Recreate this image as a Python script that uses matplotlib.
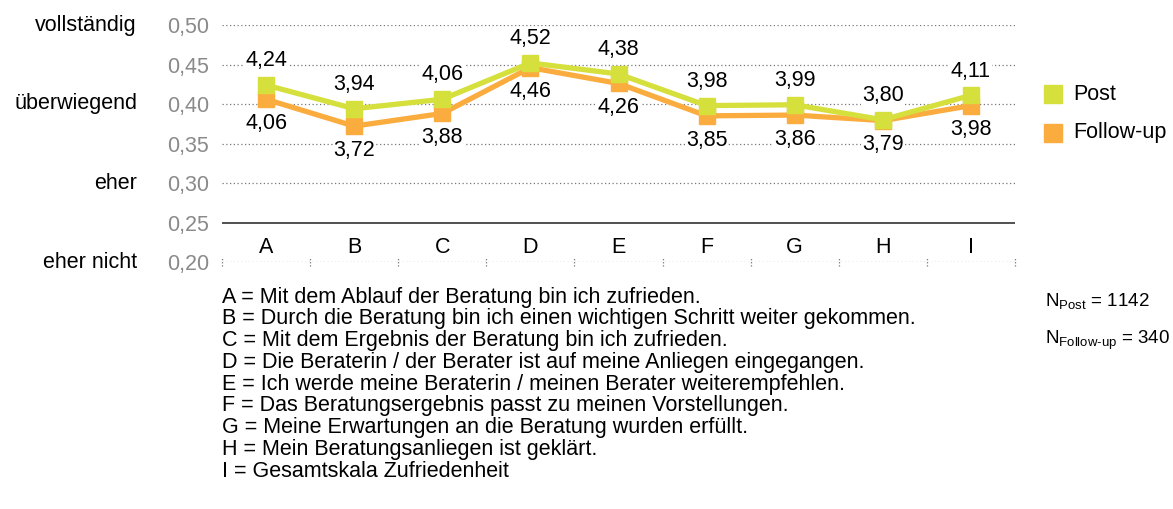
# Zufriedenheit mit der Beratung: Post vs. Follow-up
import matplotlib
matplotlib.use("Agg")
import matplotlib.pyplot as plt
from matplotlib.lines import Line2D
from matplotlib.transforms import blended_transform_factory

# %% Data
categories = ["A", "B", "C", "D", "E", "F", "G", "H", "I"]
post = [4.24, 3.94, 4.06, 4.52, 4.38, 3.98, 3.99, 3.80, 4.11]
follow_up = [4.06, 3.72, 3.88, 4.46, 4.26, 3.85, 3.86, 3.79, 3.98]
yticks = [0.20, 0.25, 0.30, 0.35, 0.40, 0.45, 0.50]
scale_labels = {0.50: "vollständig", 0.40: "überwiegend", 0.30: "eher", 0.20: "eher nicht"}
descriptions = [
    "A = Mit dem Ablauf der Beratung bin ich zufrieden.",
    "B = Durch die Beratung bin ich einen wichtigen Schritt weiter gekommen.",
    "C = Mit dem Ergebnis der Beratung bin ich zufrieden.",
    "D = Die Beraterin / der Berater ist auf meine Anliegen eingegangen.",
    "E = Ich werde meine Beraterin / meinen Berater weiterempfehlen.",
    "F = Das Beratungsergebnis passt zu meinen Vorstellungen.",
    "G = Meine Erwartungen an die Beratung wurden erfüllt.",
    "H = Mein Beratungsanliegen ist geklärt.",
    "I = Gesamtskala Zufriedenheit",
]
series_names = ["Post", "Follow-up"]
n_post, n_follow = 1142, 340

# %% Style
plt.rcParams["font.family"] = ["Liberation Sans", "DejaVu Sans"]
plt.rcParams["mathtext.fontset"] = "custom"
plt.rcParams["mathtext.rm"] = "Liberation Sans"
c_post = "#d5e03c"
c_follow = "#fbac3f"
fs = 15.5
W, H = 1173, 509

fig = plt.figure(figsize=(W / 100, H / 100), dpi=100)
ax = fig.add_axes([222 / W, 1 - 262 / H, (1015 - 222) / W, (262 - 25) / H])
ax.set_xlim(-0.5, len(categories) - 0.5)
ax.set_ylim(0.20, 0.50)
for s in ax.spines.values():
    s.set_visible(False)
ax.set_xticks([])
ax.set_yticks(yticks)
ax.set_yticklabels([f"{t:.2f}".replace(".", ",") for t in yticks])
ax.tick_params(axis="y", length=0, pad=9.5, labelsize=fs, labelcolor="#8a8a8a")

# gridlines
for t in yticks:
    if t == 0.25:
        ax.axhline(t, color="#222222", lw=1.1, zorder=1)
    else:
        ax.axhline(t, color="#777777", lw=0.9, ls=(0, (1, 2)), zorder=1)
# little dotted ticks on the bottom line
for b in range(len(categories) + 1):
    ax.plot([b - 0.5, b - 0.5], [0.195, 0.205], color="#777777", lw=0.9,
            ls=(0, (1, 1.5)), clip_on=False, zorder=1)

x = range(len(categories))
yp = [v / 10 for v in post]
yf = [v / 10 for v in follow_up]
ax.plot(x, yf, color=c_follow, lw=3.8, marker="s", ms=12, zorder=3)
ax.plot(x, yp, color=c_post, lw=3.8, marker="s", ms=12, zorder=4)

for i in x:
    ax.annotate(f"{post[i]:.2f}".replace(".", ","), (i, yp[i]), xytext=(0, 17.5),
                textcoords="offset points", ha="center", va="center", fontsize=fs,
                bbox=dict(fc="white", ec="none", pad=0.5), zorder=5)
    ax.annotate(f"{follow_up[i]:.2f}".replace(".", ","), (i, yf[i]), xytext=(0, -17.5),
                textcoords="offset points", ha="center", va="center", fontsize=fs,
                bbox=dict(fc="white", ec="none", pad=0.5), zorder=5)
    ax.text(i, 0.2185, categories[i], ha="center", va="center", fontsize=fs)

# scale words on the left
trans = blended_transform_factory(fig.transFigure, ax.transData)
for v, lab in scale_labels.items():
    ax.text(137 / W, v, lab, transform=trans, ha="right", va="center", fontsize=fs)

# legend (drawn by hand for exact placement)
for k, (name, col) in enumerate(zip(series_names, [c_post, c_follow])):
    yy = 1 - (94 + 39 * k) / H
    fig.add_artist(Line2D([1053 / W], [yy], ls="none", marker="s", ms=13,
                          color=col, transform=fig.transFigure))
    fig.text(1073 / W, yy, name, ha="left", va="center", fontsize=fs)

# N
fig.text(1045 / W, 1 - 302 / H, r"N$_{\mathrm{Post}}$ = " + str(n_post),
         ha="left", va="center", fontsize=13.5)
fig.text(1045 / W, 1 - 340 / H, r"N$_{\mathrm{Follow\text{-}up}}$ = " + str(n_follow),
         ha="left", va="center", fontsize=13.5)

# item descriptions
for k, line in enumerate(descriptions):
    fig.text(222 / W, 1 - (297 + 21.8 * k) / H, line, ha="left", va="center",
             fontsize=fs)

fig.savefig("out.png", dpi=100)
